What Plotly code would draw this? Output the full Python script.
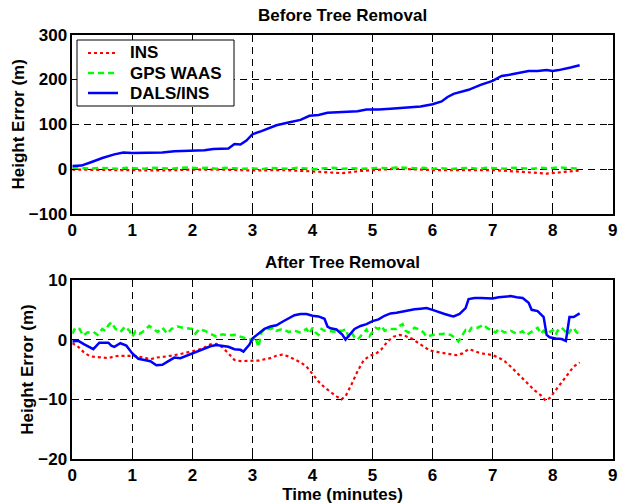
import plotly.graph_objects as go

# ---------------- Top panel: Before Tree Removal ----------------
top_dals_t = [0, 0.15, 0.3, 0.5, 0.7, 0.85, 1.0, 1.5, 1.7, 2.0, 2.2, 2.35, 2.6, 2.7, 2.8, 2.9,
              3.0, 3.15, 3.3, 3.4, 3.6, 3.8, 3.95, 4.1, 4.25, 4.5, 4.75, 4.9, 5.1, 5.3, 5.6,
              5.8, 6.0, 6.15, 6.25, 6.35, 6.6, 6.8, 7.0, 7.15, 7.3, 7.6, 7.75, 7.9, 8.0, 8.1,
              8.3, 8.45]
top_dals_v = [7, 8, 15, 25, 33, 37, 36, 37, 40, 41, 42, 45, 46, 56, 55, 64,
              78, 85, 93, 98, 104, 110, 119, 121, 126, 127, 129, 133, 133, 135, 138,
              140, 145, 151, 161, 168, 177, 188, 197, 208, 211, 219, 219, 221, 219, 221,
              227, 232]

top_ins_t = [0, 0.5, 1.0, 1.5, 2.0, 2.5, 3.0, 3.5, 4.0, 4.3, 4.5, 4.8, 5.0, 5.4, 6.0, 6.5,
             7.0, 7.5, 7.9, 8.2, 8.45]
top_ins_v = [-1, -2, -2, -3, -1, -1, -3, -2, -5, -8, -9, -4, -2, 1, -2, -2,
             -2, -6, -10, -6, -3]

top_gps_t = [0, 0.15, 0.3, 0.45, 0.6, 0.75, 0.9, 1.05, 1.2, 1.35, 1.5, 1.65, 1.8, 1.95, 2.1,
             2.25, 2.4, 2.55, 2.7, 2.85, 3.0, 3.15, 3.3, 3.45, 3.6, 3.75, 3.9, 4.05, 4.2,
             4.35, 4.5, 4.65, 4.8, 4.95, 5.1, 5.25, 5.4, 5.55, 5.7, 5.85, 6.0, 6.15, 6.3,
             6.45, 6.6, 6.75, 6.9, 7.05, 7.2, 7.35, 7.5, 7.65, 7.8, 7.95, 8.1, 8.25, 8.45]
top_gps_v = [2, 3, 1, 3, 2, 1, 3, 2, 1, 3, 2, 1, 3, 4, 2, 3, 1, 3, 2, 1,
             2, 0, 3, 2, 1, 3, 2, 0, 2, 3, 1, 2, 1, 2, 3, 2, 4, 3, 2, 3,
             1, 2, 0, 2, 3, 1, 3, 2, 1, 3, 2, 1, 3, 2, 4, 2, 1]

# ---------------- Bottom panel: After Tree Removal ----------------
bot_dals_t = [0, 0.1, 0.2, 0.35, 0.45, 0.6, 0.65, 0.7, 0.8, 0.9, 1.0, 1.1, 1.2, 1.3, 1.4,
              1.5, 1.6, 1.7, 1.8, 1.9, 2.0, 2.1, 2.2, 2.3, 2.4, 2.5, 2.6, 2.7, 2.8, 2.85,
              2.95, 3.0, 3.1, 3.2, 3.3, 3.4, 3.5, 3.6, 3.7, 3.8, 3.9, 4.0, 4.1, 4.2, 4.25,
              4.3, 4.4, 4.5, 4.55, 4.6, 4.7, 4.8, 4.9, 5.0, 5.1, 5.2, 5.3, 5.4, 5.5, 5.6,
              5.7, 5.8, 5.9, 6.0, 6.1, 6.2, 6.3, 6.35, 6.45, 6.55, 6.6, 6.7, 6.8, 6.9,
              7.0, 7.1, 7.2, 7.3, 7.4, 7.5, 7.6, 7.65, 7.75, 7.8, 7.85, 7.9, 7.95, 8.05,
              8.15, 8.22, 8.28, 8.35, 8.45]
bot_dals_v = [-0.3, -0.2, -0.8, -1.6, -0.5, -0.5, -1.0, -1.2, -0.6, -1.0, -2.3, -3.2, -3.4,
              -3.6, -4.3, -4.2, -3.6, -3.0, -3.1, -2.7, -2.2, -1.9, -1.5, -1.1, -0.9, -1.0,
              -1.2, -1.6, -1.7, -2.0, -0.8, 0.2, 1.0, 1.8, 2.2, 2.4, 3.0, 3.6, 4.1, 4.3,
              4.3, 4.0, 3.9, 3.5, 2.2, 1.9, 1.7, 0.8, 0.0, 0.6, 1.8, 2.3, 2.6, 3.1, 3.4,
              4.0, 4.4, 4.5, 4.7, 5.0, 5.1, 5.2, 5.3, 5.0, 4.6, 4.3, 4.0, 3.9, 4.3, 5.3,
              6.8, 7.0, 7.0, 7.0, 6.9, 7.1, 7.2, 7.3, 7.1, 7.0, 6.2, 5.0, 4.8, 4.3, 3.8,
              0.8, 0.4, 0.2, 0.1, -0.2, 3.8, 3.8, 4.4]

bot_ins_t = [0, 0.1, 0.2, 0.3, 0.5, 0.6, 0.7, 0.8, 1.0, 1.1, 1.2, 1.3, 1.4, 1.5, 1.6, 1.7,
             1.8, 1.9, 2.0, 2.1, 2.2, 2.3, 2.4, 2.5, 2.6, 2.7, 2.8, 3.0, 3.1, 3.3, 3.4, 3.5,
             3.6, 3.7, 3.8, 3.9, 4.0, 4.1, 4.2, 4.3, 4.4, 4.48, 4.55, 4.65, 4.75, 4.85,
             4.95, 5.05, 5.15, 5.25, 5.35, 5.45, 5.55, 5.65, 5.75, 5.85, 5.95, 6.1, 6.3,
             6.4, 6.5, 6.6, 6.7, 6.8, 6.9, 7.0, 7.1, 7.2, 7.3, 7.4, 7.5, 7.6, 7.7, 7.8,
             7.88, 7.95, 8.05, 8.15, 8.25, 8.35, 8.45]
bot_ins_v = [-0.6, -1.2, -2.2, -2.8, -3.0, -3.1, -2.8, -2.7, -2.7, -2.8, -3.0, -3.3, -3.0,
             -2.9, -2.8, -2.6, -2.4, -2.2, -2.0, -1.7, -1.3, -0.8, -0.7, -1.3, -2.3, -3.4,
             -3.6, -3.6, -3.5, -3.1, -2.7, -2.5, -2.8, -3.3, -3.8, -4.5, -5.8, -7.0, -8.0,
             -8.8, -9.5, -10.0, -9.5, -7.5, -5.3, -3.5, -2.7, -2.4, -1.6, -0.3, 0.5, 0.8,
             0.6, 0.2, -0.5, -1.2, -1.8, -2.1, -2.4, -2.6, -2.3, -1.6, -1.9, -2.3, -2.4,
             -2.6, -3.0, -3.6, -4.5, -5.5, -6.5, -7.5, -8.5, -9.3, -10.2, -9.8, -8.5, -7.0,
             -5.7, -4.5, -3.8]

bot_gps_t = [0, 0.05, 0.12, 0.18, 0.25, 0.35, 0.42, 0.5, 0.55, 0.6, 0.65, 0.72, 0.8, 0.88,
             0.95, 1.0, 1.05, 1.12, 1.2, 1.28, 1.35, 1.42, 1.5, 1.58, 1.65, 1.75, 1.85, 1.95,
             2.0, 2.05, 2.12, 2.2, 2.3, 2.4, 2.5, 2.6, 2.7, 2.8, 2.9, 3.0, 3.05, 3.1, 3.15,
             3.2, 3.3, 3.35, 3.4, 3.5, 3.6, 3.7, 3.8, 3.9, 3.95, 4.0, 4.05, 4.1, 4.15, 4.2,
             4.3, 4.4, 4.45, 4.5, 4.55, 4.6, 4.65, 4.7, 4.75, 4.85, 4.9, 4.95, 5.0, 5.05,
             5.1, 5.15, 5.2, 5.3, 5.4, 5.45, 5.5, 5.55, 5.6, 5.7, 5.8, 5.85, 5.9, 6.0, 6.1,
             6.2, 6.3, 6.38, 6.43, 6.48, 6.55, 6.6, 6.65, 6.75, 6.8, 6.85, 6.9, 7.0, 7.05,
             7.1, 7.2, 7.3, 7.4, 7.5, 7.55, 7.6, 7.7, 7.75, 7.8, 7.85, 7.9, 8.0, 8.05, 8.1,
             8.15, 8.2, 8.25, 8.3, 8.35, 8.4, 8.45]
bot_gps_v = [1.0, 2.0, 1.8, 0.7, 1.2, 1.3, 0.8, 1.8, 1.5, 2.4, 2.9, 1.8, 1.3, 2.2, 1.5, 0.5,
             1.4, 1.0, 1.5, 2.3, 1.8, 1.3, 2.0, 1.0, 1.8, 2.2, 2.0, 1.8, 1.8, 1.0, 1.8, 1.5,
             1.0, 0.5, 0.9, 0.7, 0.8, 0.5, 0.2, -0.1, 0.4, -1.2, 1.2, 1.8, 1.8, 2.0, 1.5,
             1.8, 1.3, 1.5, 1.2, 1.8, 1.0, 2.0, 1.2, 0.8, 1.8, 1.5, 1.4, 1.3, 1.5, 1.5, 1.8,
             0.5, 1.2, 0.4, 0.0, 1.2, 1.7, 0.6, 1.3, 2.0, 1.8, 2.3, 1.5, 1.8, 1.8, 2.3, 2.6,
             1.5, 1.2, 2.0, 1.6, 1.2, 0.5, 0.8, 0.9, 1.0, 0.8, 0.3, -0.3, 0.5, 1.6, 1.2, 2.0,
             2.0, 2.3, 2.5, 2.0, 1.5, 1.2, 1.8, 1.2, 1.5, 1.0, 1.4, 0.8, 1.0, 1.6, 2.0, 1.0,
             1.5, 1.0, 1.6, 0.8, 1.8, 2.0, 1.5, 0.8, 1.6, 2.0, 1.2, 1.0]

series_names = ["INS", "GPS WAAS", "DALS/INS"]
x_ticks = [0, 1, 2, 3, 4, 5, 6, 7, 8, 9]
top_y_ticks = [-100, 0, 100, 200, 300]
bot_y_ticks = [-20, -10, 0, 10]

FONT = "Liberation Sans, Arial, sans-serif"
COLORS = ["#ff0000", "#00ff00", "#0000ff"]
DASHES = ["dot", "6px,4px", "solid"]
WIDTHS = [2.2, 2.5, 2.5]
FS = 17

fig = go.Figure()
top_series = [(top_ins_t, top_ins_v), (top_gps_t, top_gps_v), (top_dals_t, top_dals_v)]
bot_series = [(bot_ins_t, bot_ins_v), (bot_gps_t, bot_gps_v), (bot_dals_t, bot_dals_v)]
for i, (t, v) in enumerate(top_series):
    fig.add_trace(go.Scatter(x=t, y=v, name=series_names[i], mode="lines", showlegend=False,
                             line=dict(color=COLORS[i], width=WIDTHS[i], dash=DASHES[i]),
                             xaxis="x", yaxis="y"))
for i, (t, v) in enumerate(bot_series):
    fig.add_trace(go.Scatter(x=t, y=v, name=series_names[i], mode="lines", showlegend=False,
                             line=dict(color=COLORS[i], width=WIDTHS[i], dash=DASHES[i]),
                             xaxis="x2", yaxis="y2"))

W, H = 636, 504
xdom = [72.3 / W, 612.7 / W]
top_dom = [1 - 214 / H, 1 - 34.7 / H]
bot_dom = [1 - 459 / H, 1 - 280 / H]

tickfont = dict(family=FONT, size=FS, color="black", weight="bold")
titlefont = dict(family=FONT, size=FS, color="black", weight="bold")
common = dict(showline=True, linecolor="black", linewidth=1.5, mirror="ticks",
              ticks="inside", ticklen=5, tickcolor="black", tickwidth=1,
              showgrid=True, gridcolor="black", gridwidth=1, griddash="7px,5px",
              zeroline=False, tickfont=tickfont, automargin=False)

# legend box drawn in paper coordinates (upper-left of top panel)
leg_x0, leg_x1, leg_y0, leg_y1 = 77, 234, 40, 106
row_y = [53, 73, 93]
shapes = [dict(type="rect", xref="paper", yref="paper", layer="above",
               x0=leg_x0 / W, x1=leg_x1 / W, y0=1 - leg_y1 / H, y1=1 - leg_y0 / H,
               line=dict(color="black", width=1), fillcolor="white")]
annotations = []
for i, name in enumerate(series_names):
    shapes.append(dict(type="line", xref="paper", yref="paper", layer="above",
                       x0=88 / W, x1=118 / W, y0=1 - row_y[i] / H, y1=1 - row_y[i] / H,
                       line=dict(color=COLORS[i], width=WIDTHS[i], dash=DASHES[i])))
    annotations.append(dict(text=name, x=128 / W, y=1 - row_y[i] / H, xref="paper",
                            yref="paper", showarrow=False, xanchor="left", yanchor="middle",
                            font=dict(family=FONT, size=FS, color="black", weight="bold")))

annotations += [
    dict(text="Before Tree Removal", x=(xdom[0] + xdom[1]) / 2, y=1 - 15 / H,
         xref="paper", yref="paper", showarrow=False, xanchor="center", yanchor="middle",
         font=dict(family=FONT, size=FS, color="black", weight="bold")),
    dict(text="After Tree Removal", x=(xdom[0] + xdom[1]) / 2, y=1 - 262 / H,
         xref="paper", yref="paper", showarrow=False, xanchor="center", yanchor="middle",
         font=dict(family=FONT, size=FS, color="black", weight="bold")),
]

fig.update_layout(
    width=W, height=H,
    margin=dict(l=0, r=0, t=0, b=0),
    paper_bgcolor="white", plot_bgcolor="white",
    font=dict(family=FONT, color="black"),
    xaxis=dict(domain=xdom, range=[0, 9], tickvals=x_ticks, anchor="y", **common),
    yaxis=dict(domain=top_dom, range=[-100, 300], tickvals=top_y_ticks, anchor="x",
               title=dict(text="Height Error (m)", font=titlefont, standoff=0), **common),
    xaxis2=dict(domain=xdom, range=[0, 9], tickvals=x_ticks, anchor="y2",
                title=dict(text="Time (minutes)", font=titlefont, standoff=2), **common),
    yaxis2=dict(domain=bot_dom, range=[-20, 10], tickvals=bot_y_ticks, anchor="x2",
                title=dict(text="Height Error (m)", font=titlefont, standoff=0), **common),
    showlegend=False,
    shapes=shapes,
    annotations=annotations,
)

fig.write_html("out.html")
